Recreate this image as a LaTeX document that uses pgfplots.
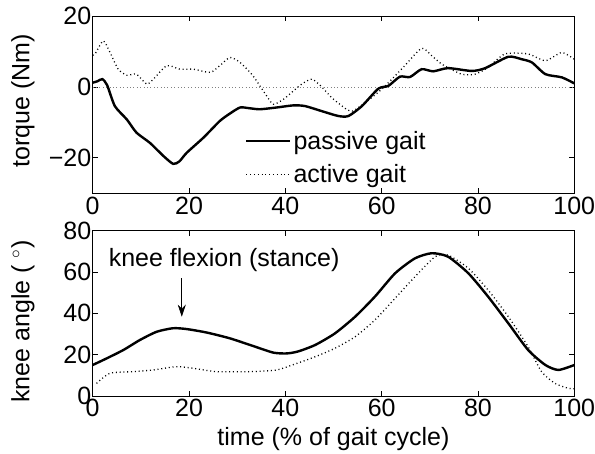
\documentclass[border=0pt]{standalone}
\usepackage{fontspec}
\setmainfont{Liberation Sans}
\usepackage{pgfplots}
\pgfplotsset{compat=1.18}
\usetikzlibrary{arrows.meta,calc}
\newcommand{\bigf}{\fontsize{25}{29}\selectfont}
\begin{document}
\begin{tikzpicture}
\pgfplotsset{
  every axis/.append style={
    scale only axis, width=481.6pt,
    xmin=0, xmax=100, xtick={0,20,40,60,80,100},
    tick align=inside, major tick length=5pt,
    axis line style={line width=0.9pt}, every tick/.style={black, line width=0.7pt},
    tick label style={font=\bigf}, label style={font=\bigf},
    /pgf/number format/assume math mode=true,
    yticklabel style={xshift=2pt},
  },
  passive/.style={black, line width=2.4pt, smooth, tension=0.4},
  active/.style={black, line width=1.3pt, dash pattern=on 1pt off 2.8pt, smooth, tension=0.4},
}
% torque panel
\begin{axis}[name=top, at={(0pt,0pt)}, anchor=north west, height=177.3pt,
  ymin=-30, ymax=20, ytick={-20,0,20}, yticklabels={−20,0,20},
  ylabel={torque (Nm)},
  ylabel style={at={(axis description cs:-0.145,0.52)}, anchor=center},
  legend style={draw=none, fill=none, font=\bigf, at={(axis description cs:0.31,0.375)},
    anchor=north west, row sep=10pt},
  legend cell align=left,
  legend image code/.code={\draw[#1] (-5pt,0pt) -- (39pt,0pt);},
]
\addplot[gray, line width=0.6pt, dash pattern=on 0.8pt off 2.6pt, forget plot]
  coordinates {(0,0) (100,0)};
\addplot[passive] coordinates {
(0,1.2)(1,1.6)(2,2.2)(3,0.5)(4.6,-5.4)(7.1,-9.2)(9.1,-12.9)(11.9,-15.8)
(14.7,-19.5)(16.7,-21.7)(18,-21)(19.5,-18.6)(23,-14.3)(26.4,-9.6)(28.5,-7.5)
(30.6,-5.8)(32.5,-6.0)(34.7,-6.3)(38.2,-5.8)(41.7,-5.2)(44.1,-5.4)(47.5,-6.8)
(51,-8.2)(53.1,-8.2)(55.9,-5.4)(59.3,-0.5)(61.4,0.3)(63.8,2.9)(65.9,2.8)
(68.3,5)(70.7,4.4)(73.8,5.3)(78.7,4.5)(81.5,5.3)(86.3,8.5)(89.1,7.8)
(91.2,6.9)(94,3.6)(97.4,2.7)(100,1)
};
\addlegendentry{passive gait}
\addplot[active] coordinates {
(0,9)(0.5,9.3)(2.2,13)(3.6,9.7)(5.3,5)(7.1,3.3)(9.1,3.6)(11.2,0.8)(12.6,2.2)
(15.4,6)(18.1,5)(20.9,5)(24.4,4.1)(26.4,6)(28.5,8.3)(30.6,6.9)(33.3,3.1)
(36.1,-2.5)(37.5,-4.9)(39.6,-3.5)(41.7,-1.1)(43.4,0.8)(45.5,2.2)(47.5,0.1)
(49.6,-3)(52.7,-6.3)(54,-6.8)(56,-5)(59.3,-1.5)(62,2)(64.8,6)(68.3,10.9)
(70.4,8.8)(72.5,6.4)(76.6,3.6)(79.4,3.6)(82.1,5.5)(85.6,9.3)(90.4,9.3)
(94,7.4)(97.4,9.7)(100,7.8)
};
\addlegendentry{active gait}
\end{axis}
% knee angle panel
\begin{axis}[name=bot, at={(0pt,-214.7pt)}, anchor=north west, height=165.3pt,
  ymin=0, ymax=80, ytick={0,20,40,60,80},
  ylabel={knee angle ( $^\circ$)},
  ylabel style={at={(axis description cs:-0.145,0.45)}, anchor=center},
  xlabel={time (\% of gait cycle)},
  xlabel style={yshift=-3pt},
]
\addplot[passive] coordinates {
(0,15)(2.9,18.2)(6.4,22.3)(9.8,27.1)(13.3,31.1)(16.7,32.8)(19.5,32.4)
(23.7,30.7)(28.5,27.9)(33.3,24.2)(37.5,21)(40.3,20.6)(42.7,21.6)(46.2,24.7)
(50.3,30.3)(54.5,38.4)(58.6,48.1)(62.8,59.4)(66.9,66.6)(70.4,69.1)(73.8,67.4)
(78,59.4)(82.1,48.1)(86.3,35.2)(90.4,22.3)(94,15)(96.7,12.6)(100,15)
};
\addplot[active] coordinates {
(0.8,6.1)(3.6,11)(8.4,11.8)(12.6,12.6)(17.4,14.2)(20.9,13.4)(25.7,11.8)
(32.7,11.8)(38.2,12.6)(42.4,15.8)(46.2,19)(50.3,23.1)(54.5,28.7)(58.6,36.8)
(62.8,47.3)(66.9,57.7)(71.1,67.4)(73.8,68.2)(78,61.8)(82.1,51.3)(86.3,38.4)
(90.4,23.9)(93.2,11.8)(96,6.1)(98.8,3.7)(100,3.5)
};
\node[font=\bigf] at (axis cs:27.3,65.8) {knee flexion (stance)};
\draw[-{Stealth[length=12pt,width=8pt]}, line width=0.6pt] (axis cs:18.5,57) -- (axis cs:18.5,38.4);
\end{axis}
\pgfresetboundingbox
\path[use as bounding box] ($(top.north west)+(-92.7pt,16pt)$) rectangle ($(bot.south west)+(502.3pt,-58pt)$);
\end{tikzpicture}
\end{document}
